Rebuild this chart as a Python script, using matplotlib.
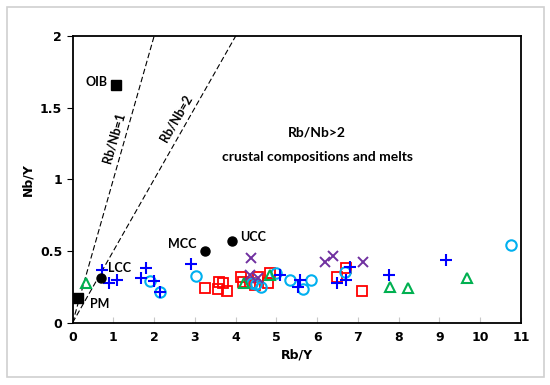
import matplotlib.pyplot as plt
from matplotlib.patches import Rectangle

# reference points (black)
ref_sq_x = [0.13, 1.07]
ref_sq_y = [0.17, 1.66]
ref_ci_x = [0.70, 3.25, 3.90]
ref_ci_y = [0.315, 0.50, 0.572]

# samples
plus_x = [0.73, 0.90, 1.10, 1.80, 1.68, 2.00, 2.14, 2.91, 5.09, 5.58, 5.54, 6.48, 6.70, 6.80, 7.76, 9.17]
plus_y = [0.37, 0.275, 0.298, 0.38, 0.314, 0.29, 0.216, 0.41, 0.33, 0.30, 0.25, 0.275, 0.30, 0.387, 0.333, 0.44]

circ_x = [1.90, 2.14, 3.03, 4.40, 4.50, 4.63, 5.00, 5.34, 5.84, 5.65, 6.69, 10.75]
circ_y = [0.29, 0.216, 0.326, 0.28, 0.27, 0.25, 0.35, 0.30, 0.30, 0.235, 0.356, 0.54]

sq_x = [3.26, 3.60, 3.69, 3.57, 3.78, 4.14, 4.18, 4.36, 4.48, 4.56, 4.79, 4.85, 6.48, 6.72, 7.11]
sq_y = [0.245, 0.286, 0.275, 0.235, 0.22, 0.32, 0.286, 0.275, 0.263, 0.32, 0.275, 0.345, 0.32, 0.384, 0.22]

tri_x = [0.33, 4.20, 4.85, 7.79, 8.24, 9.67]
tri_y = [0.28, 0.28, 0.33, 0.25, 0.245, 0.31]

cross_x = [4.39, 4.36, 4.55, 6.20, 6.39, 7.13]
cross_y = [0.45, 0.333, 0.31, 0.426, 0.465, 0.42]

ratio_vals = [1, 2]

fig = plt.figure(figsize=(5.5, 3.85), dpi=100)
fig.patches.append(Rectangle((0.013, 0.02), 0.976, 0.962, transform=fig.transFigure,
                             fill=False, edgecolor='#D0D0D0', linewidth=1.2))
ax = fig.add_axes([0.132, 0.162, 0.815, 0.744])

for r in ratio_vals:
    ax.plot([0, 11], [0, 11 / r], ls=(0, (5, 2.5)), color='black', lw=0.8)

ax.plot(sq_x, sq_y, 's', mfc='none', mec='#FF0000', ms=7.5, mew=1.3, ls='none')
ax.plot(circ_x, circ_y, 'o', mfc='none', mec='#00B0F0', ms=7.5, mew=1.5, ls='none')
ax.plot(tri_x, tri_y, '^', mfc='none', mec='#00B050', ms=7.5, mew=1.5, ls='none')
ax.plot(cross_x, cross_y, 'x', color='#7030A0', ms=7.5, mew=1.4, ls='none')
ax.plot(plus_x, plus_y, '+', color='#0000FF', ms=9, mew=1.5, ls='none')
ax.plot(ref_sq_x, ref_sq_y, 's', color='black', ms=6.5, ls='none')
ax.plot(ref_ci_x, ref_ci_y, 'o', color='black', ms=6.5, ls='none')

lab = dict(fontsize=9, fontweight='bold', color='black', family='Lato')
ax.text(0.42, 0.13, 'PM', va='center', ha='left', **lab)
ax.text(0.85, 1.68, 'OIB', va='center', ha='right', **lab)
ax.text(0.88, 0.38, 'LCC', va='center', ha='left', **lab)
ax.text(3.05, 0.55, 'MCC', va='center', ha='right', **lab)
ax.text(4.12, 0.60, 'UCC', va='center', ha='left', **lab)
ax.text(1.00, 1.29, 'Rb/Nb=1', rotation=74, va='center', ha='center', **lab)
ax.text(2.54, 1.43, 'Rb/Nb=2', rotation=60, va='center', ha='center', **lab)
ax.text(6.0, 1.33, 'Rb/Nb>2', va='center', ha='center', fontsize=10,
        fontweight='bold', family='Lato')
ax.text(6.0, 1.156, 'crustal compositions and melts', va='center', ha='center',
        fontsize=10, fontweight='bold', family='Lato')

ax.set_xlim(0, 11)
ax.set_ylim(0, 2)
ax.set_xticks(range(0, 12))
ax.set_yticks([0, 0.5, 1, 1.5, 2])
ax.set_yticklabels(['0', '0.5', '1', '1.5', '2'])
ax.tick_params(axis='x', direction='in', length=4, color='#C8C8C8', labelsize=9, pad=6)
ax.tick_params(axis='y', direction='out', length=4, labelsize=9)
for t in ax.get_xticklabels() + ax.get_yticklabels():
    t.set_fontweight('bold')
for s in ax.spines.values():
    s.set_linewidth(1.3)
ax.set_xlabel('Rb/Y', fontsize=9, fontweight='bold', labelpad=3)
ax.set_ylabel('Nb/Y', fontsize=9, fontweight='bold', labelpad=4)

fig.savefig('out.png', dpi=100)
